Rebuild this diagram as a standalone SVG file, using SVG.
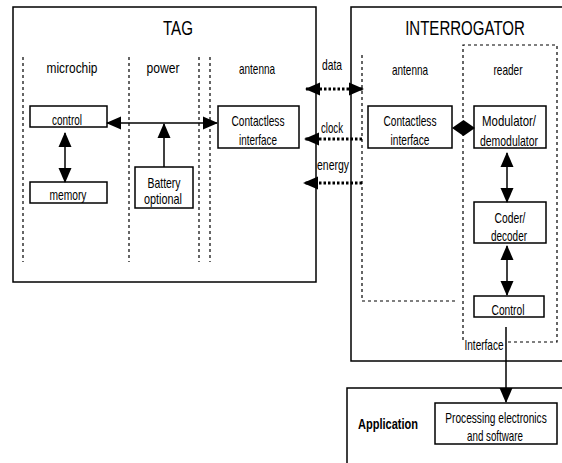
<svg xmlns="http://www.w3.org/2000/svg" width="562" height="463" viewBox="0 0 562 463">
<style>
.box{fill:#fff;stroke:#000;stroke-width:1.5}
.frame{fill:none;stroke:#000;stroke-width:1.5}
.dash{fill:none;stroke:#000;stroke-width:1.2;stroke-dasharray:3,3}
.con{fill:none;stroke:#000;stroke-width:1.5}
.dot{fill:none;stroke:#000;stroke-width:3;stroke-dasharray:2.5,2}
.head{fill:#000;stroke:none}
text{font-family:"Liberation Sans",Arial,sans-serif;font-size:14.5px;fill:#000;text-anchor:middle}
.title{font-size:21px}
.bold{font-weight:bold;font-size:15px}
</style>
<defs>
<marker id="ah" markerUnits="userSpaceOnUse" markerWidth="15" markerHeight="14" refX="14" refY="7" orient="auto-start-reverse">
<path d="M0,0.5 L15,7 L0,13.5 Z" fill="#000" stroke="none"/>
</marker>
</defs>
<rect width="562" height="463" fill="#fff"/>

<g id="tag">
<rect class="frame" x="13" y="7" width="303" height="275"/>
<text class="title" x="178" y="35" textLength="30" lengthAdjust="spacingAndGlyphs">TAG</text>
<line class="dash" x1="23" y1="57" x2="23" y2="262"/>
<line class="dash" x1="129" y1="57" x2="129" y2="262"/>
<line class="dash" x1="199" y1="57" x2="199" y2="262"/>
<line class="dash" x1="210" y1="57" x2="210" y2="262"/>
<text x="72" y="73" textLength="51" lengthAdjust="spacingAndGlyphs">microchip</text>
<text x="163" y="73" textLength="33" lengthAdjust="spacingAndGlyphs">power</text>
<text x="257" y="74" textLength="36" lengthAdjust="spacingAndGlyphs">antenna</text>
</g>

<g id="tag-control">
<rect class="box" x="30" y="106" width="77" height="21"/>
<text x="67" y="125" textLength="30" lengthAdjust="spacingAndGlyphs">control</text>
</g>
<g id="tag-memory">
<rect class="box" x="30" y="182" width="77" height="21"/>
<text x="68" y="200" textLength="37" lengthAdjust="spacingAndGlyphs">memory</text>
</g>
<g id="tag-battery">
<rect class="box" x="135" y="167" width="58" height="41"/>
<text x="164" y="188" textLength="33" lengthAdjust="spacingAndGlyphs">Battery</text>
<text x="163" y="204" textLength="38" lengthAdjust="spacingAndGlyphs">optional</text>
</g>
<g id="tag-contactless">
<rect class="box" x="218" y="106" width="81" height="42"/>
<text x="258" y="126" textLength="53" lengthAdjust="spacingAndGlyphs">Contactless</text>
<text x="258" y="145" textLength="38" lengthAdjust="spacingAndGlyphs">interface</text>
</g>

<g id="interrogator">
<rect class="frame" x="351" y="7" width="230" height="354"/>
<text class="title" transform="translate(465,35) scale(0.716,1)" x="0" y="0">INTERROGATOR</text>
<polyline class="dash" points="362,55 362,301 456,301"/>
<polyline class="dash" points="463,340 463,45 557,45 557,342 505,342"/>
<text x="410" y="75" textLength="36" lengthAdjust="spacingAndGlyphs">antenna</text>
<text x="508" y="75" textLength="29" lengthAdjust="spacingAndGlyphs">reader</text>
<text x="484" y="350" textLength="39" lengthAdjust="spacingAndGlyphs">Interface</text>
</g>

<g id="int-contactless">
<rect class="box" x="368" y="106" width="84" height="42"/>
<text x="410" y="126" textLength="53" lengthAdjust="spacingAndGlyphs">Contactless</text>
<text x="410" y="145" textLength="39" lengthAdjust="spacingAndGlyphs">interface</text>
</g>
<g id="modulator">
<rect class="box" x="474" y="106" width="72" height="42"/>
<text x="509" y="126" textLength="54" lengthAdjust="spacingAndGlyphs">Modulator/</text>
<text x="509" y="146" textLength="58" lengthAdjust="spacingAndGlyphs">demodulator</text>
</g>
<g id="coder">
<rect class="box" x="474" y="202" width="72" height="41"/>
<text x="510" y="223" textLength="31" lengthAdjust="spacingAndGlyphs">Coder/</text>
<text x="509" y="241" textLength="36" lengthAdjust="spacingAndGlyphs">decoder</text>
</g>
<g id="int-control">
<rect class="box" x="474" y="296" width="70" height="21"/>
<text x="508" y="315" textLength="33" lengthAdjust="spacingAndGlyphs">Control</text>
</g>

<g id="application">
<rect class="frame" x="347" y="388" width="230" height="90"/>
<text class="bold" x="388" y="429" textLength="60" lengthAdjust="spacingAndGlyphs">Application</text>
</g>
<g id="processing">
<rect class="box" x="435" y="403" width="122" height="41"/>
<text transform="translate(496,423) scale(0.70,1)" x="0" y="0">Processing electronics</text>
<text x="495" y="441" textLength="56" lengthAdjust="spacingAndGlyphs">and software</text>
</g>

<g id="connectors">
<line class="con" x1="107" y1="123" x2="217" y2="123" marker-start="url(#ah)" marker-end="url(#ah)"/>
<line class="con" x1="164" y1="167" x2="164" y2="124" marker-end="url(#ah)"/>
<line class="con" x1="65" y1="133" x2="65" y2="182" marker-start="url(#ah)" marker-end="url(#ah)"/>
<line class="dot" x1="306" y1="89" x2="363" y2="89" marker-start="url(#ah)" marker-end="url(#ah)"/>
<line class="dot" x1="362" y1="139" x2="305" y2="139" marker-end="url(#ah)"/>
<line class="dot" x1="362" y1="183" x2="304" y2="183" marker-end="url(#ah)"/>
<polygon class="head" points="452,128 463.5,120 475,128 463.5,136"/>
<line class="con" x1="507" y1="153" x2="507" y2="202" marker-start="url(#ah)" marker-end="url(#ah)"/>
<line class="con" x1="507" y1="246" x2="507" y2="295" marker-start="url(#ah)" marker-end="url(#ah)"/>
<line class="con" x1="506" y1="327" x2="506" y2="402" marker-end="url(#ah)"/>
<text x="332" y="70" textLength="20" lengthAdjust="spacingAndGlyphs">data</text>
<text x="332" y="133" textLength="22" lengthAdjust="spacingAndGlyphs">clock</text>
<text x="333" y="170" textLength="32" lengthAdjust="spacingAndGlyphs">energy</text>
</g>
</svg>
